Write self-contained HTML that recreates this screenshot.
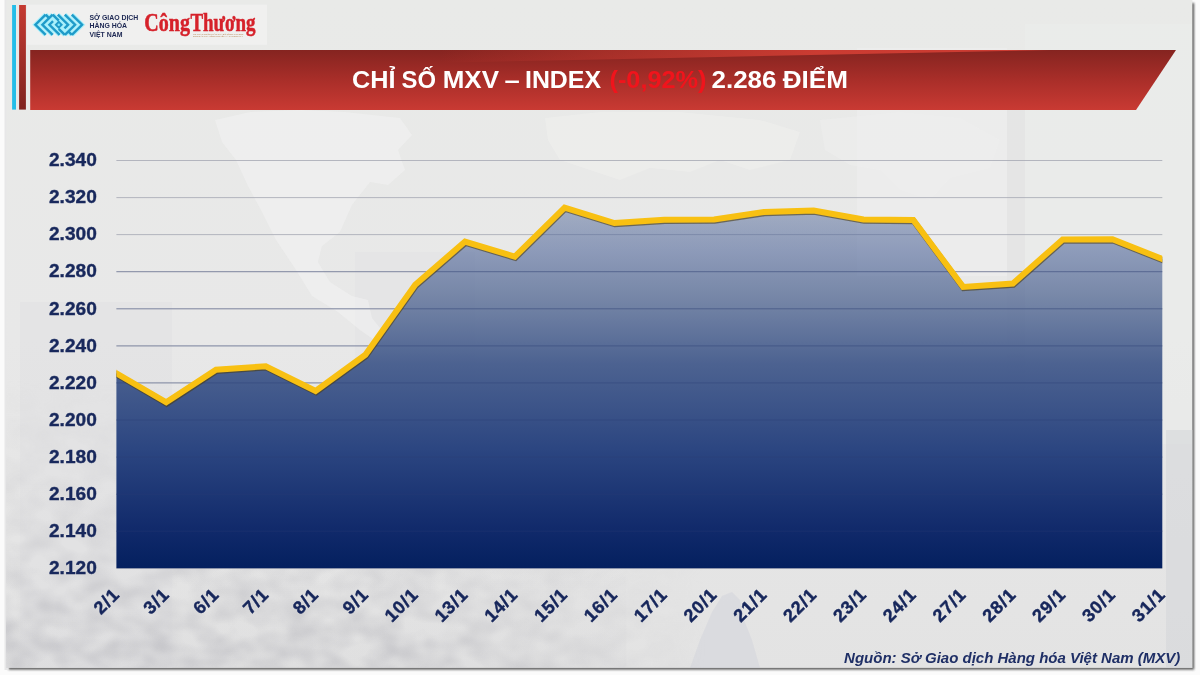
<!DOCTYPE html>
<html lang="vi">
<head>
<meta charset="utf-8">
<title>Chỉ số MXV – Index</title>
<style>
html,body{margin:0;padding:0;background:#fbfbfb;}
body{width:1200px;height:675px;overflow:hidden;position:relative;font-family:"Liberation Sans",sans-serif;}
svg{position:absolute;left:0;top:0;display:block;}
.ylab{font-family:"Liberation Sans",sans-serif;font-weight:bold;font-size:18px;fill:#18285c;stroke:#18285c;stroke-width:0.35px;}
.xlab{font-family:"Liberation Sans",sans-serif;font-weight:bold;font-size:18px;letter-spacing:0.9px;fill:#16265b;stroke:#16265b;stroke-width:0.45px;}
.title{font-family:"Liberation Sans",sans-serif;font-weight:bold;font-size:24px;fill:#ffffff;}
.src{font-family:"Liberation Sans",sans-serif;font-weight:bold;font-style:italic;font-size:15px;fill:#1f2f66;}
.mxv{font-family:"Liberation Sans",sans-serif;font-weight:bold;font-size:6.9px;fill:#1c2752;}
.ct{font-family:"Liberation Serif",serif;font-weight:bold;font-size:25px;fill:#d6212a;stroke:#d6212a;stroke-width:0.5px;}
.tiny{font-family:"Liberation Sans",sans-serif;font-size:2.2px;fill:#b98a5a;}
</style>
</head>
<body>
<svg width="1200" height="675" viewBox="0 0 1200 675">
<defs>
<linearGradient id="gArea" x1="0" y1="206" x2="0" y2="568" gradientUnits="userSpaceOnUse">
<stop offset="0" stop-color="#4f6696" stop-opacity="0.45"/>
<stop offset="0.12" stop-color="#51679a" stop-opacity="0.60"/>
<stop offset="0.245" stop-color="#4c628f" stop-opacity="0.72"/>
<stop offset="0.436" stop-color="#445b8c" stop-opacity="0.95"/>
<stop offset="0.67" stop-color="#2c4681" stop-opacity="1"/>
<stop offset="0.9" stop-color="#10296a" stop-opacity="1"/>
<stop offset="1" stop-color="#04205f" stop-opacity="1"/>
</linearGradient>
<linearGradient id="gBanner" x1="0" y1="50" x2="0" y2="110" gradientUnits="userSpaceOnUse">
<stop offset="0" stop-color="#852420"/>
<stop offset="0.5" stop-color="#a92e29"/>
<stop offset="1" stop-color="#c93a33"/>
</linearGradient>
<linearGradient id="gBar" x1="0" y1="5" x2="0" y2="110" gradientUnits="userSpaceOnUse">
<stop offset="0" stop-color="#c53a31"/>
<stop offset="1" stop-color="#7f231f"/>
</linearGradient>
<linearGradient id="gCard" x1="0" y1="0" x2="0" y2="675" gradientUnits="userSpaceOnUse">
<stop offset="0" stop-color="#e9eae8"/>
<stop offset="0.5" stop-color="#e8e8e8"/>
<stop offset="1" stop-color="#e3e3e3"/>
</linearGradient>
<linearGradient id="gWedge" x1="440" y1="0" x2="820" y2="0" gradientUnits="userSpaceOnUse">
<stop offset="0" stop-color="#cf3d33" stop-opacity="0"/>
<stop offset="1" stop-color="#cf3d33" stop-opacity="0.95"/>
</linearGradient>
<filter id="noise" x="0" y="0" width="100%" height="100%" color-interpolation-filters="sRGB">
<feTurbulence type="fractalNoise" baseFrequency="0.035 0.05" numOctaves="2" seed="7" result="t"/>
<feColorMatrix in="t" type="matrix" values="0 0 0 0 0.74  0 0 0 0 0.74  0 0 0 0 0.76  1.7 0 0 0 -0.5"/>
</filter>
<linearGradient id="gBotFade" x1="0" y1="380" x2="0" y2="668" gradientUnits="userSpaceOnUse">
<stop offset="0" stop-color="#fff" stop-opacity="0"/>
<stop offset="0.55" stop-color="#fff" stop-opacity="0.35"/>
<stop offset="1" stop-color="#fff" stop-opacity="0.9"/>
</linearGradient>
<linearGradient id="gBotFadeX" x1="6" y1="0" x2="706" y2="0" gradientUnits="userSpaceOnUse">
<stop offset="0" stop-color="#000" stop-opacity="0"/>
<stop offset="0.6" stop-color="#000" stop-opacity="0.1"/>
<stop offset="1" stop-color="#000" stop-opacity="1"/>
</linearGradient>
<mask id="mBottom" maskUnits="userSpaceOnUse" x="0" y="370" width="720" height="310">
<rect x="0" y="370" width="720" height="310" fill="url(#gBotFade)"/>
<rect x="0" y="370" width="720" height="310" fill="url(#gBotFadeX)"/>
</mask>
<linearGradient id="gBotShade" x1="0" y1="560" x2="0" y2="668" gradientUnits="userSpaceOnUse">
<stop offset="0" stop-color="#cfcfd2" stop-opacity="0"/>
<stop offset="1" stop-color="#cfcfd2" stop-opacity="0.2"/>
</linearGradient>
<filter id="blur2" x="-1%" y="-2%" width="102%" height="104%"><feGaussianBlur stdDeviation="1.3"/></filter>
<filter id="blur1"><feGaussianBlur stdDeviation="0.7"/></filter>
</defs>

<rect x="0" y="0" width="1200" height="675" fill="#fbfbfb"/>
<rect x="8.5" y="3" width="1185.6" height="666.6" fill="#3c3c3c" filter="url(#blur2)" opacity="0.85"/>
<rect x="4.5" y="-2" width="4" height="672" fill="#e7e7e8" filter="url(#blur1)"/>
<rect x="6.3" y="0" width="1186.1" height="667.9" fill="url(#gCard)"/>
<g>
<rect x="857" y="48" width="150" height="228" fill="#f0f0f0" opacity="0.5"/>
<rect x="1025" y="24" width="167" height="420" fill="#ecedeb" opacity="0.5"/>
<rect x="1007" y="110" width="18" height="330" fill="#e2e3e2" opacity="0.6"/>
<rect x="20" y="302" width="152" height="366" fill="#e0e0e2" opacity="0.55"/>
<rect x="355" y="252" width="120" height="130" fill="#e2e2e4" opacity="0.5"/>
<path d="M215,120 L250,112 L300,110 L345,112 L400,118 L412,135 L398,150 L405,170 L388,185 L370,182 L352,205 L340,232 L322,246 L318,262 L330,282 L352,296 L368,300 L372,318 L388,338 L380,344 L360,330 L338,312 L312,296 L296,270 L276,240 L262,212 L248,186 L236,160 L222,142 Z" fill="#f3f3f2" opacity="0.55"/>
<path d="M545,118 L600,112 L680,112 L760,120 L800,132 L790,160 L750,170 L720,160 L690,172 L650,168 L620,180 L590,170 L560,160 L548,140 Z" fill="#f1f1f0" opacity="0.45"/>
<path d="M820,120 L900,112 L960,118 L1000,140 L990,168 L950,178 L930,200 L900,190 L880,170 L850,165 L825,150 Z" fill="#f1f1f0" opacity="0.4"/>
<rect x="6.3" y="380" width="700" height="288" fill="#9a9a9c" filter="url(#noise)" mask="url(#mBottom)"/>
<rect x="6.3" y="560" width="620" height="108" fill="url(#gBotShade)"/>
<path d="M690,668 L700,640 L712,612 L722,596 L732,592 L740,600 L744,620 L752,640 L760,668 Z" fill="#c9ccd6" opacity="0.35"/>
<rect x="1166" y="430" width="26.4" height="238" fill="#d4d6d8" opacity="0.55"/>
</g>
<line x1="116.4" y1="160.5" x2="1162.3" y2="160.5" stroke="#a9abb6" stroke-opacity="0.85" stroke-width="1"/>
<line x1="116.4" y1="197.6" x2="1162.3" y2="197.6" stroke="#a9abb6" stroke-opacity="0.85" stroke-width="1"/>
<line x1="116.4" y1="234.6" x2="1162.3" y2="234.6" stroke="#a9abb6" stroke-opacity="0.85" stroke-width="1"/>
<line x1="116.4" y1="271.7" x2="1162.3" y2="271.7" stroke="#a9abb6" stroke-opacity="0.85" stroke-width="1"/>
<line x1="116.4" y1="308.8" x2="1162.3" y2="308.8" stroke="#a9abb6" stroke-opacity="0.85" stroke-width="1"/>
<line x1="116.4" y1="345.9" x2="1162.3" y2="345.9" stroke="#a9abb6" stroke-opacity="0.85" stroke-width="1"/>
<line x1="116.4" y1="382.9" x2="1162.3" y2="382.9" stroke="#a9abb6" stroke-opacity="0.85" stroke-width="1"/>
<line x1="116.4" y1="420.0" x2="1162.3" y2="420.0" stroke="#a9abb6" stroke-opacity="0.85" stroke-width="1"/>
<line x1="116.4" y1="457.1" x2="1162.3" y2="457.1" stroke="#a9abb6" stroke-opacity="0.85" stroke-width="1"/>
<line x1="116.4" y1="494.2" x2="1162.3" y2="494.2" stroke="#a9abb6" stroke-opacity="0.85" stroke-width="1"/>
<line x1="116.4" y1="531.2" x2="1162.3" y2="531.2" stroke="#a9abb6" stroke-opacity="0.85" stroke-width="1"/>
<line x1="116.4" y1="568.3" x2="1162.3" y2="568.3" stroke="#a9abb6" stroke-opacity="0.85" stroke-width="1"/>
<polygon points="116.4,568.3 116.4,373.3 166.2,402.3 216.0,369.7 265.8,366.2 315.6,391.0 365.4,354.8 415.2,284.7 465.0,241.6 514.8,256.6 564.6,207.6 614.4,223.0 664.3,219.8 714.1,219.4 763.9,212.0 813.7,210.5 863.5,219.4 913.3,220.0 963.1,286.9 1012.9,283.5 1062.7,239.4 1112.5,239.2 1162.3,259.0 1162.3,568.3" fill="url(#gArea)"/>
<g opacity="0.35">
<line x1="116.4" y1="271.7" x2="1162.3" y2="271.7" stroke="#2a3d74" stroke-width="1"/>
<line x1="116.4" y1="308.8" x2="1162.3" y2="308.8" stroke="#2a3d74" stroke-width="1"/>
<line x1="116.4" y1="345.9" x2="1162.3" y2="345.9" stroke="#2a3d74" stroke-width="1"/>
<line x1="116.4" y1="382.9" x2="1162.3" y2="382.9" stroke="#2a3d74" stroke-width="1"/>
<line x1="116.4" y1="420.0" x2="1162.3" y2="420.0" stroke="#2a3d74" stroke-width="1"/>
<line x1="116.4" y1="457.1" x2="1162.3" y2="457.1" stroke="#2a3d74" stroke-width="1"/>
<line x1="116.4" y1="494.2" x2="1162.3" y2="494.2" stroke="#2a3d74" stroke-width="1"/>
<line x1="116.4" y1="531.2" x2="1162.3" y2="531.2" stroke="#2a3d74" stroke-width="1"/>
</g>
<clipPath id="cpPlot"><rect x="116.4" y="140" width="1045.9" height="440"/></clipPath>
<g clip-path="url(#cpPlot)">
<polyline points="106.4,367.5 116.4,373.3 166.2,402.3 216.0,369.7 265.8,366.2 315.6,391.0 365.4,354.8 415.2,284.7 465.0,241.6 514.8,256.6 564.6,207.6 614.4,223.0 664.3,219.8 714.1,219.4 763.9,212.0 813.7,210.5 863.5,219.4 913.3,220.0 963.1,286.9 1012.9,283.5 1062.7,239.4 1112.5,239.2 1162.3,259.0 1172.3,263.0" fill="none" stroke="#4a3c14" stroke-opacity="0.6" stroke-width="6" stroke-linejoin="miter" transform="translate(0.5,1.3)" filter="url(#blur1)"/>
<polyline points="106.4,367.5 116.4,373.3 166.2,402.3 216.0,369.7 265.8,366.2 315.6,391.0 365.4,354.8 415.2,284.7 465.0,241.6 514.8,256.6 564.6,207.6 614.4,223.0 664.3,219.8 714.1,219.4 763.9,212.0 813.7,210.5 863.5,219.4 913.3,220.0 963.1,286.9 1012.9,283.5 1062.7,239.4 1112.5,239.2 1162.3,259.0 1172.3,263.0" fill="none" stroke="#f8c012" stroke-width="6" stroke-linejoin="miter" stroke-linecap="butt"/>
</g>
<text class="ylab" x="96.8" y="166.2" text-anchor="end" textLength="47.8" lengthAdjust="spacingAndGlyphs">2.340</text>
<text class="ylab" x="96.8" y="203.3" text-anchor="end" textLength="47.8" lengthAdjust="spacingAndGlyphs">2.320</text>
<text class="ylab" x="96.8" y="240.3" text-anchor="end" textLength="47.8" lengthAdjust="spacingAndGlyphs">2.300</text>
<text class="ylab" x="96.8" y="277.4" text-anchor="end" textLength="47.8" lengthAdjust="spacingAndGlyphs">2.280</text>
<text class="ylab" x="96.8" y="314.5" text-anchor="end" textLength="47.8" lengthAdjust="spacingAndGlyphs">2.260</text>
<text class="ylab" x="96.8" y="351.6" text-anchor="end" textLength="47.8" lengthAdjust="spacingAndGlyphs">2.240</text>
<text class="ylab" x="96.8" y="388.6" text-anchor="end" textLength="47.8" lengthAdjust="spacingAndGlyphs">2.220</text>
<text class="ylab" x="96.8" y="425.7" text-anchor="end" textLength="47.8" lengthAdjust="spacingAndGlyphs">2.200</text>
<text class="ylab" x="96.8" y="462.8" text-anchor="end" textLength="47.8" lengthAdjust="spacingAndGlyphs">2.180</text>
<text class="ylab" x="96.8" y="499.9" text-anchor="end" textLength="47.8" lengthAdjust="spacingAndGlyphs">2.160</text>
<text class="ylab" x="96.8" y="536.9" text-anchor="end" textLength="47.8" lengthAdjust="spacingAndGlyphs">2.140</text>
<text class="ylab" x="96.8" y="574.0" text-anchor="end" textLength="47.8" lengthAdjust="spacingAndGlyphs">2.120</text>
<text class="xlab" text-anchor="end" transform="translate(120.6,595.6) rotate(-45)">2/1</text>
<text class="xlab" text-anchor="end" transform="translate(170.4,595.6) rotate(-45)">3/1</text>
<text class="xlab" text-anchor="end" transform="translate(220.2,595.6) rotate(-45)">6/1</text>
<text class="xlab" text-anchor="end" transform="translate(270.0,595.6) rotate(-45)">7/1</text>
<text class="xlab" text-anchor="end" transform="translate(319.8,595.6) rotate(-45)">8/1</text>
<text class="xlab" text-anchor="end" transform="translate(369.6,595.6) rotate(-45)">9/1</text>
<text class="xlab" text-anchor="end" transform="translate(419.4,595.6) rotate(-45)">10/1</text>
<text class="xlab" text-anchor="end" transform="translate(469.2,595.6) rotate(-45)">13/1</text>
<text class="xlab" text-anchor="end" transform="translate(519.0,595.6) rotate(-45)">14/1</text>
<text class="xlab" text-anchor="end" transform="translate(568.8,595.6) rotate(-45)">15/1</text>
<text class="xlab" text-anchor="end" transform="translate(618.6,595.6) rotate(-45)">16/1</text>
<text class="xlab" text-anchor="end" transform="translate(668.5,595.6) rotate(-45)">17/1</text>
<text class="xlab" text-anchor="end" transform="translate(718.3,595.6) rotate(-45)">20/1</text>
<text class="xlab" text-anchor="end" transform="translate(768.1,595.6) rotate(-45)">21/1</text>
<text class="xlab" text-anchor="end" transform="translate(817.9,595.6) rotate(-45)">22/1</text>
<text class="xlab" text-anchor="end" transform="translate(867.7,595.6) rotate(-45)">23/1</text>
<text class="xlab" text-anchor="end" transform="translate(917.5,595.6) rotate(-45)">24/1</text>
<text class="xlab" text-anchor="end" transform="translate(967.3,595.6) rotate(-45)">27/1</text>
<text class="xlab" text-anchor="end" transform="translate(1017.1,595.6) rotate(-45)">28/1</text>
<text class="xlab" text-anchor="end" transform="translate(1066.9,595.6) rotate(-45)">29/1</text>
<text class="xlab" text-anchor="end" transform="translate(1116.7,595.6) rotate(-45)">30/1</text>
<text class="xlab" text-anchor="end" transform="translate(1166.5,595.6) rotate(-45)">31/1</text>
<text class="src" x="1180.3" y="662.5" text-anchor="end">Nguồn: Sở Giao dịch Hàng hóa Việt Nam (MXV)</text>
<rect x="12.1" y="5" width="3.9" height="104.6" fill="#25bde8"/>
<rect x="19.1" y="5" width="6.8" height="104.6" fill="url(#gBar)"/>
<polygon points="30.2,50 1176,50 1136,110 30.2,110" fill="url(#gBanner)"/>
<polygon points="400,50 1050,50 600,59.4 400,63.6" fill="url(#gWedge)"/>
<rect x="27" y="4.6" width="240" height="40.2" fill="#f2f2f1" opacity="0.75"/>
<polygon points="39,24.75 46.5,17.5 71,17.5 78.5,24.75 71,32 46.5,32" fill="#a9f0fb"/>
<g fill="none" stroke="#a9f0fb" stroke-width="4.6" stroke-linecap="butt" stroke-linejoin="miter">
<polyline points="45.65,14.55 35.45,24.75 45.65,34.95"/>
<polyline points="52.65,14.55 42.45,24.75 52.65,34.95"/>
<polyline points="53.05,21.15 49.45,24.75 59.65,34.95"/>
<polyline points="71.85,14.55 82.05,24.75 71.85,34.95"/>
<polyline points="64.85,14.55 75.05,24.75 64.85,34.95"/>
<polyline points="57.85,14.55 68.05,24.75 64.45,28.35"/>
<polyline points="45.65,14.55 49.15,18.05"/>
<polyline points="52.65,14.55 58.75,20.65"/>
<polyline points="71.85,34.95 68.35,31.45"/>
<polyline points="64.85,34.95 58.75,28.85"/>
<polygon points="54.5,24.75 58.75,20.5 63.0,24.75 58.75,29.0" fill="#a9f0fb" stroke="none"/>
</g>
<g fill="none" stroke="#1f9bc9" stroke-width="2.45" stroke-linecap="butt" stroke-linejoin="miter">
<polyline points="45.65,14.55 35.45,24.75 45.65,34.95"/>
<polyline points="52.65,14.55 42.45,24.75 52.65,34.95"/>
<polyline points="53.05,21.15 49.45,24.75 59.65,34.95"/>
<polyline points="71.85,14.55 82.05,24.75 71.85,34.95"/>
<polyline points="64.85,14.55 75.05,24.75 64.85,34.95"/>
<polyline points="57.85,14.55 68.05,24.75 64.45,28.35"/>
<polyline points="45.65,14.55 49.15,18.05"/>
<polyline points="52.65,14.55 58.75,20.65"/>
<polyline points="71.85,34.95 68.35,31.45"/>
<polyline points="64.85,34.95 58.75,28.85"/>
<polygon points="54.5,24.75 58.75,20.5 63.0,24.75 58.75,29.0" fill="#1f9bc9" stroke="none"/>
</g>
<circle cx="58.75" cy="24.75" r="1.25" fill="#7fe6fb"/>
<text class="mxv" x="89.5" y="20.3">SỞ GIAO DỊCH</text>
<text class="mxv" x="89.5" y="28.4">HÀNG HÓA</text>
<text class="mxv" x="89.5" y="36.5">VIỆT NAM</text>
<text class="ct" y="30.6"><tspan x="144.3" textLength="45.6" lengthAdjust="spacingAndGlyphs">Công</tspan> <tspan x="190.4" textLength="65.2" lengthAdjust="spacingAndGlyphs">Thương</tspan></text>
<text class="tiny" x="193" y="35.1">CƠ QUAN NGÔN LUẬN CỦA BỘ CÔNG THƯƠNG</text>
<text class="tiny" x="193" y="37.4">DIỄN ĐÀN CỦA CÔNG NGHIỆP VÀ THƯƠNG MẠI</text>
<text class="title" y="87.5"><tspan x="352.00" textLength="43.50" lengthAdjust="spacingAndGlyphs">CHỈ</tspan> <tspan x="401.50" textLength="34.50" lengthAdjust="spacingAndGlyphs">SỐ</tspan> <tspan x="442.75" textLength="56.25" lengthAdjust="spacingAndGlyphs">MXV</tspan> <tspan x="504.50" textLength="15.25" lengthAdjust="spacingAndGlyphs">–</tspan> <tspan x="525.00" textLength="76.00" lengthAdjust="spacingAndGlyphs">INDEX</tspan> <tspan x="609.50" textLength="97.00" lengthAdjust="spacingAndGlyphs" style="fill:#f0141c">(-0,92%)</tspan> <tspan x="711.50" textLength="65.00" lengthAdjust="spacingAndGlyphs">2.286</tspan> <tspan x="782.75" textLength="65.25" lengthAdjust="spacingAndGlyphs">ĐIỂM</tspan></text>
</svg>
</body>
</html>
